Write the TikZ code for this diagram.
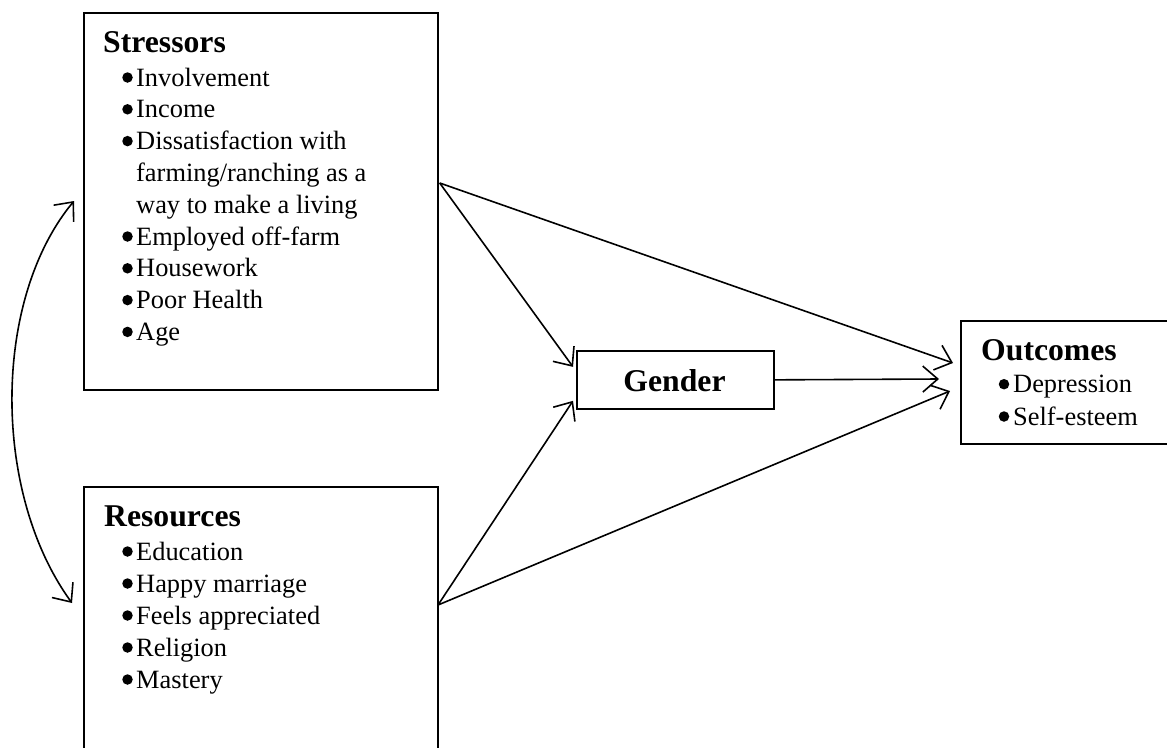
\documentclass[tikz,border=0pt]{standalone}
\usepackage{fontspec}
\setmainfont{Liberation Serif}
\usetikzlibrary{arrows.meta,calc}
\tikzset{
  box/.style={draw, line width=1.7pt, rectangle, inner sep=0pt, anchor=north west},
  head/.style={anchor=base west, inner sep=0pt, font=\fontsize{31.7}{38}\selectfont\bfseries},
  item/.style={anchor=base west, inner sep=0pt, font=\fontsize{26.4}{31.8}\selectfont},
  bul/.style={circle, fill, inner sep=0pt, minimum size=10.5pt},
  conn/.style={line width=1.6pt, -{Straight Barb[length=15pt,width=26pt,line width=1.6pt]}},
  dconn/.style={line width=1.6pt, {Straight Barb[length=15pt,width=26pt,line width=1.6pt]}-{Straight Barb[length=15pt,width=26pt,line width=1.6pt]}}
}
\begin{document}
\begin{tikzpicture}[x=1pt,y=-1pt]
\useasboundingbox (0,0) rectangle (1167,747);
\clip (0,0) rectangle (1167,747);
% boxes
\node[box, minimum width=354pt, minimum height=377pt] (str) at (83,12) {};
\node[box, minimum width=354pt, minimum height=300pt] (res) at (83,486) {};
\node[box, minimum width=197pt, minimum height=58pt] (gen) at (576,350) {};
\node[box, minimum width=250pt, minimum height=123pt] (out) at (960,320) {};
% Stressors text
\node[head] (sh) at (103,52) {Stressors};
\node[item] (s1) at (136,86) {Involvement};
\node[item] (s2) at (136,117.8) {Income};
\node[item] (s3) at (136,149.6) {Dissatisfaction with};
\node[item] (s3b) at (136,181.4) {farming/ranching as a};
\node[item] (s3c) at (136,213.2) {way to make a living};
\node[item] (s4) at (136,245) {Employed off-farm};
\node[item] (s5) at (136,276.8) {Housework};
\node[item] (s6) at (136,308.6) {Poor Health};
\node[item] (s7) at (136,340.4) {Age};
\foreach \y/\n in {86/1,117.8/2,149.6/3,245/4,276.8/5,308.6/6,340.4/7}
  \node[bul] (sb\n) at (127.5,\y-8.5) {};
% Resources text
\node[head] (rh) at (104,526.7) {Resources};
\node[item] (r1) at (136,560) {Education};
\node[item] (r2) at (136,592) {Happy marriage};
\node[item] (r3) at (136,624) {Feels appreciated};
\node[item] (r4) at (136,656) {Religion};
\node[item] (r5) at (136,688) {Mastery};
\foreach \y/\n in {560/1,592/2,624/3,656/4,688/5}
  \node[bul] (rb\n) at (127.5,\y-8.5) {};
% Gender
\node[head, anchor=base] (gt) at (674.5,391) {Gender};
% Outcomes
\node[head] (oh) at (981,360) {Outcomes};
\node[item] (o1) at (1013,392.7) {Depression};
\node[item] (o2) at (1013,425) {Self-esteem};
\node[bul] (ob1) at (1004,384.2) {};
\node[bul] (ob2) at (1004,416.5) {};
% connector points
\coordinate (sOut) at ($(str.north east)+(1,171)$);
\coordinate (rOut) at ($(res.north west)+(355,119)$);
\coordinate (gIn1) at ($(gen.west)+(-3,-13)$);
\coordinate (gIn2) at ($(gen.west)+(-3,21)$);
\coordinate (oIn1) at ($(out.north west)+(-7,43)$);
\coordinate (oIn2) at ($(out.north west)+(-21,59)$);
\coordinate (oIn3) at ($(out.north west)+(-10,71)$);
\coordinate (cTop) at ($(str.north west)+(-9,189)$);
\coordinate (cBot) at ($(res.north west)+(-11,117)$);
% connectors
\draw[conn] (sOut) -- (gIn1);
\draw[conn] (sOut) -- (oIn1);
\draw[conn] (rOut) -- (gIn2);
\draw[conn] (rOut) -- (oIn3);
\draw[conn] (gen.east) -- (oIn2);
\draw[dconn] (cTop) .. controls (-8,300) and (-8,493) .. (cBot);
\end{tikzpicture}
\end{document}
